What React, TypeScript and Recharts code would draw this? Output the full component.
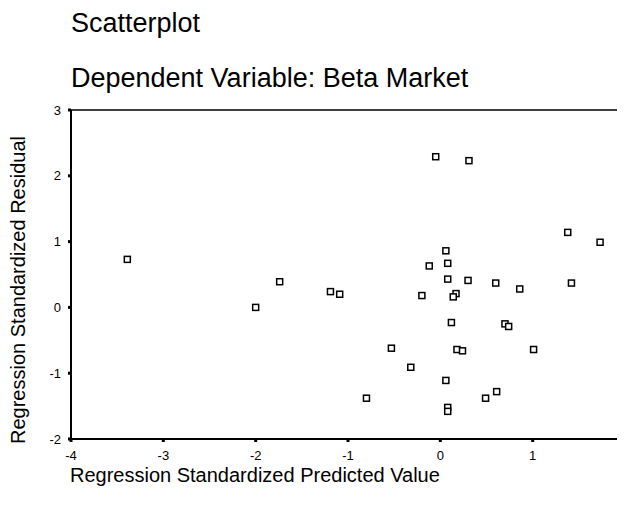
import React from 'react';
import { ScatterChart, Scatter, XAxis, YAxis, ReferenceLine } from 'recharts';

// standardized predicted value (x) and standardized residual (y) per case
const predicted = [
  -3.39, -2.0, -1.74, -0.05, 0.31, 1.38, 1.73, 0.06, 0.08, -0.12, 0.08, 0.3,
  0.6, 0.86, 1.42, -1.19, -1.09, -0.2, 0.17, 0.14, 0.12, 0.7, 0.74, -0.53,
  0.18, 0.24, 1.01, -0.32, 0.06, -0.8, 0.49, 0.61, 0.08, 0.08,
];
const residual = [
  0.73, 0.0, 0.39, 2.29, 2.23, 1.14, 0.99, 0.86, 0.67, 0.63, 0.43, 0.41,
  0.37, 0.28, 0.37, 0.24, 0.2, 0.18, 0.21, 0.16, -0.23, -0.25, -0.29, -0.62,
  -0.64, -0.66, -0.64, -0.91, -1.11, -1.38, -1.38, -1.28, -1.52, -1.58,
];
const xTicks = [-4, -3, -2, -1, 0, 1, 2];
const yTicks = [-2, -1, 0, 1, 2, 3];

const title = 'Scatterplot';
const subtitle = 'Dependent Variable: Beta Market';
const xLabel = 'Regression Standardized Predicted Value';
const yLabel = 'Regression Standardized Residual';

const points = predicted.map((x, i) => ({ x, y: residual[i] }));

const FONT = '"Liberation Sans", Arial, sans-serif';

const Square = (props: any) => {
  const { cx, cy } = props;
  return (
    <rect x={cx - 3} y={cy - 3} width={6} height={6} fill="#fff" stroke="#000" strokeWidth={1.5} />
  );
};

const XTick = (props: any) => {
  const { x, y, payload } = props;
  return (
    <text x={x} y={y + 16} textAnchor="middle" fontSize={13} fontFamily={FONT} fill="#000">
      {payload.value}
    </text>
  );
};

const YTick = (props: any) => {
  const { x, y, payload } = props;
  return (
    <text x={x - 5} y={y + 4.5} textAnchor="end" fontSize={13} fontFamily={FONT} fill="#000">
      {payload.value}
    </text>
  );
};

export default function App() {
  return (
    <div style={{ position: 'relative', width: 617, height: 508, overflow: 'hidden', fontFamily: FONT }}>
      <ScatterChart
        width={640}
        height={508}
        margin={{ top: 102, right: 23, bottom: 47, left: 0 }}
      >
        <XAxis
          type="number"
          dataKey="x"
          domain={[-4, 2]}
          ticks={xTicks}
          allowDataOverflow
          height={30}
          axisLine={{ stroke: '#000', strokeWidth: 2 }}
          tickLine={{ stroke: '#000', strokeWidth: 3 }}
          tickSize={3}
          tick={<XTick />}
        />
        <YAxis
          type="number"
          dataKey="y"
          domain={[-2, 3]}
          ticks={yTicks}
          allowDataOverflow
          width={63}
          axisLine={{ stroke: '#000', strokeWidth: 2 }}
          tickLine={{ stroke: '#000', strokeWidth: 3 }}
          tickSize={3}
          tick={<YTick />}
        />
        <ReferenceLine y={3} stroke="#000" strokeWidth={1.5} />
        <Scatter data={points} shape={<Square />} isAnimationActive={false} />
      </ScatterChart>
      <svg
        width={617}
        height={508}
        style={{ position: 'absolute', left: 0, top: 0, pointerEvents: 'none' }}
      >
        <text x={63} y={24} fontSize={27} fontFamily={FONT} fill="#000">{title}</text>
        <text x={63} y={79} fontSize={27} fontFamily={FONT} fill="#000">{subtitle}</text>
        <text x={62} y={474} fontSize={20} fontFamily={FONT} fill="#000">{xLabel}</text>
        <text
          x={17}
          y={282}
          fontSize={20}
          fontFamily={FONT}
          fill="#000"
          textAnchor="middle"
          transform="rotate(-90 17 282)"
        >
          {yLabel}
        </text>
      </svg>
    </div>
  );
}
